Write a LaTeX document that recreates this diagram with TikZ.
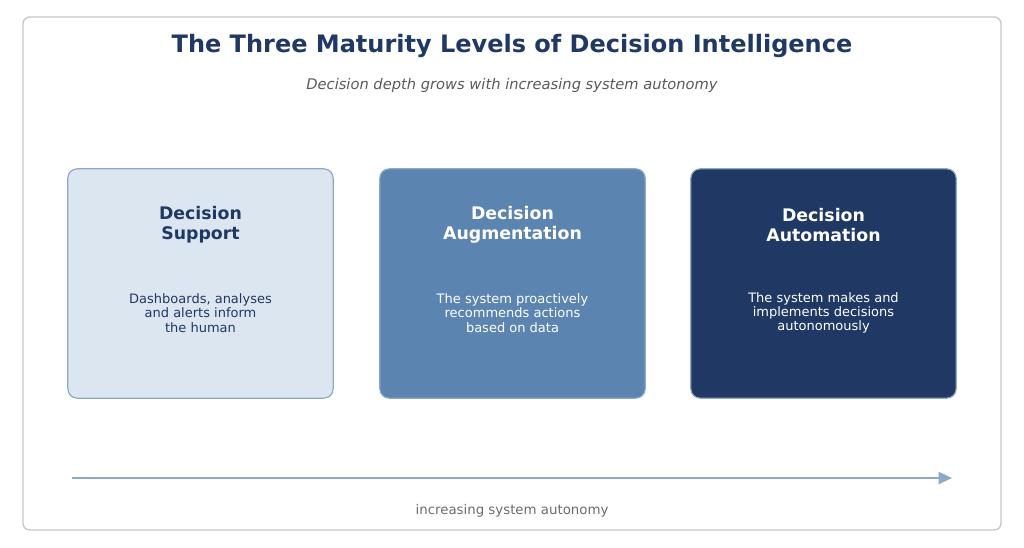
\documentclass[tikz,border=0pt]{standalone}
\usepackage{fontspec}
\setmainfont{DejaVu Sans}
\usetikzlibrary{arrows.meta,positioning}
\definecolor{navy}{HTML}{1F3864}
\definecolor{midblue}{HTML}{5B84B1}
\definecolor{paleblue}{HTML}{DCE6F1}
\definecolor{edgeblue}{HTML}{8EA9C8}
\definecolor{subgray}{HTML}{5A5A5A}
\tikzset{
  level/.style={draw=edgeblue, line width=0.9pt, rounded corners=7pt, minimum width=199pt, minimum height=172pt},
  head/.style={font=\fontsize{13}{15}\selectfont\bfseries, align=center},
  body/.style={font=\fontsize{9.75}{10.8}\selectfont, align=center}
}
\begin{document}
\begin{tikzpicture}[x=0.75pt,y=-0.75pt]
    \useasboundingbox (0,0) rectangle (1024,548);
    \draw [gray!45, line width=1pt, rounded corners=5pt] (23,17) rectangle (1001,530);

    \node (title) [text=navy, font=\fontsize{18}{20}\selectfont\bfseries] at (512,46) {The Three Maturity Levels of Decision Intelligence};
    \node (sub) [text=subgray, font=\fontsize{11}{13}\selectfont\itshape] at (512,85) {Decision depth grows with increasing system autonomy};

    % the three levels
    \node (support) [level, fill=paleblue] at (200.5,283.5) {};
    \node (augment) [level, fill=midblue] at (512.5,283.5) {};
    \node (automat) [level, fill=navy] at (823.5,283.5) {};

    \node [head, text=navy] at (200.5,225) {Decision\\Support};
    \node [head, text=white] at (512.5,225) {Decision\\Augmentation};
    \node [head, text=white] at (823.5,225) {Decision\\Automation};

    \node [body, text=navy] at (200.5,313) {Dashboards, analyses\\and alerts inform\\the human};
    \node [body, text=white] at (512.5,313) {The system proactively\\recommends actions\\based on data};
    \node [body, text=white] at (823.5,313) {The system makes and\\implements decisions\\autonomously};

    % autonomy axis
    \coordinate (from) at (72,478);
    \coordinate (to) at (952,478);
    \draw [-{Triangle[length=10pt,width=9pt]}, edgeblue, line width=1.5pt] (from) -- (to);
    \node (axis) [text=gray!85!black, font=\fontsize{10}{12}\selectfont] at (512,511) {increasing system autonomy};
\end{tikzpicture}
\end{document}
